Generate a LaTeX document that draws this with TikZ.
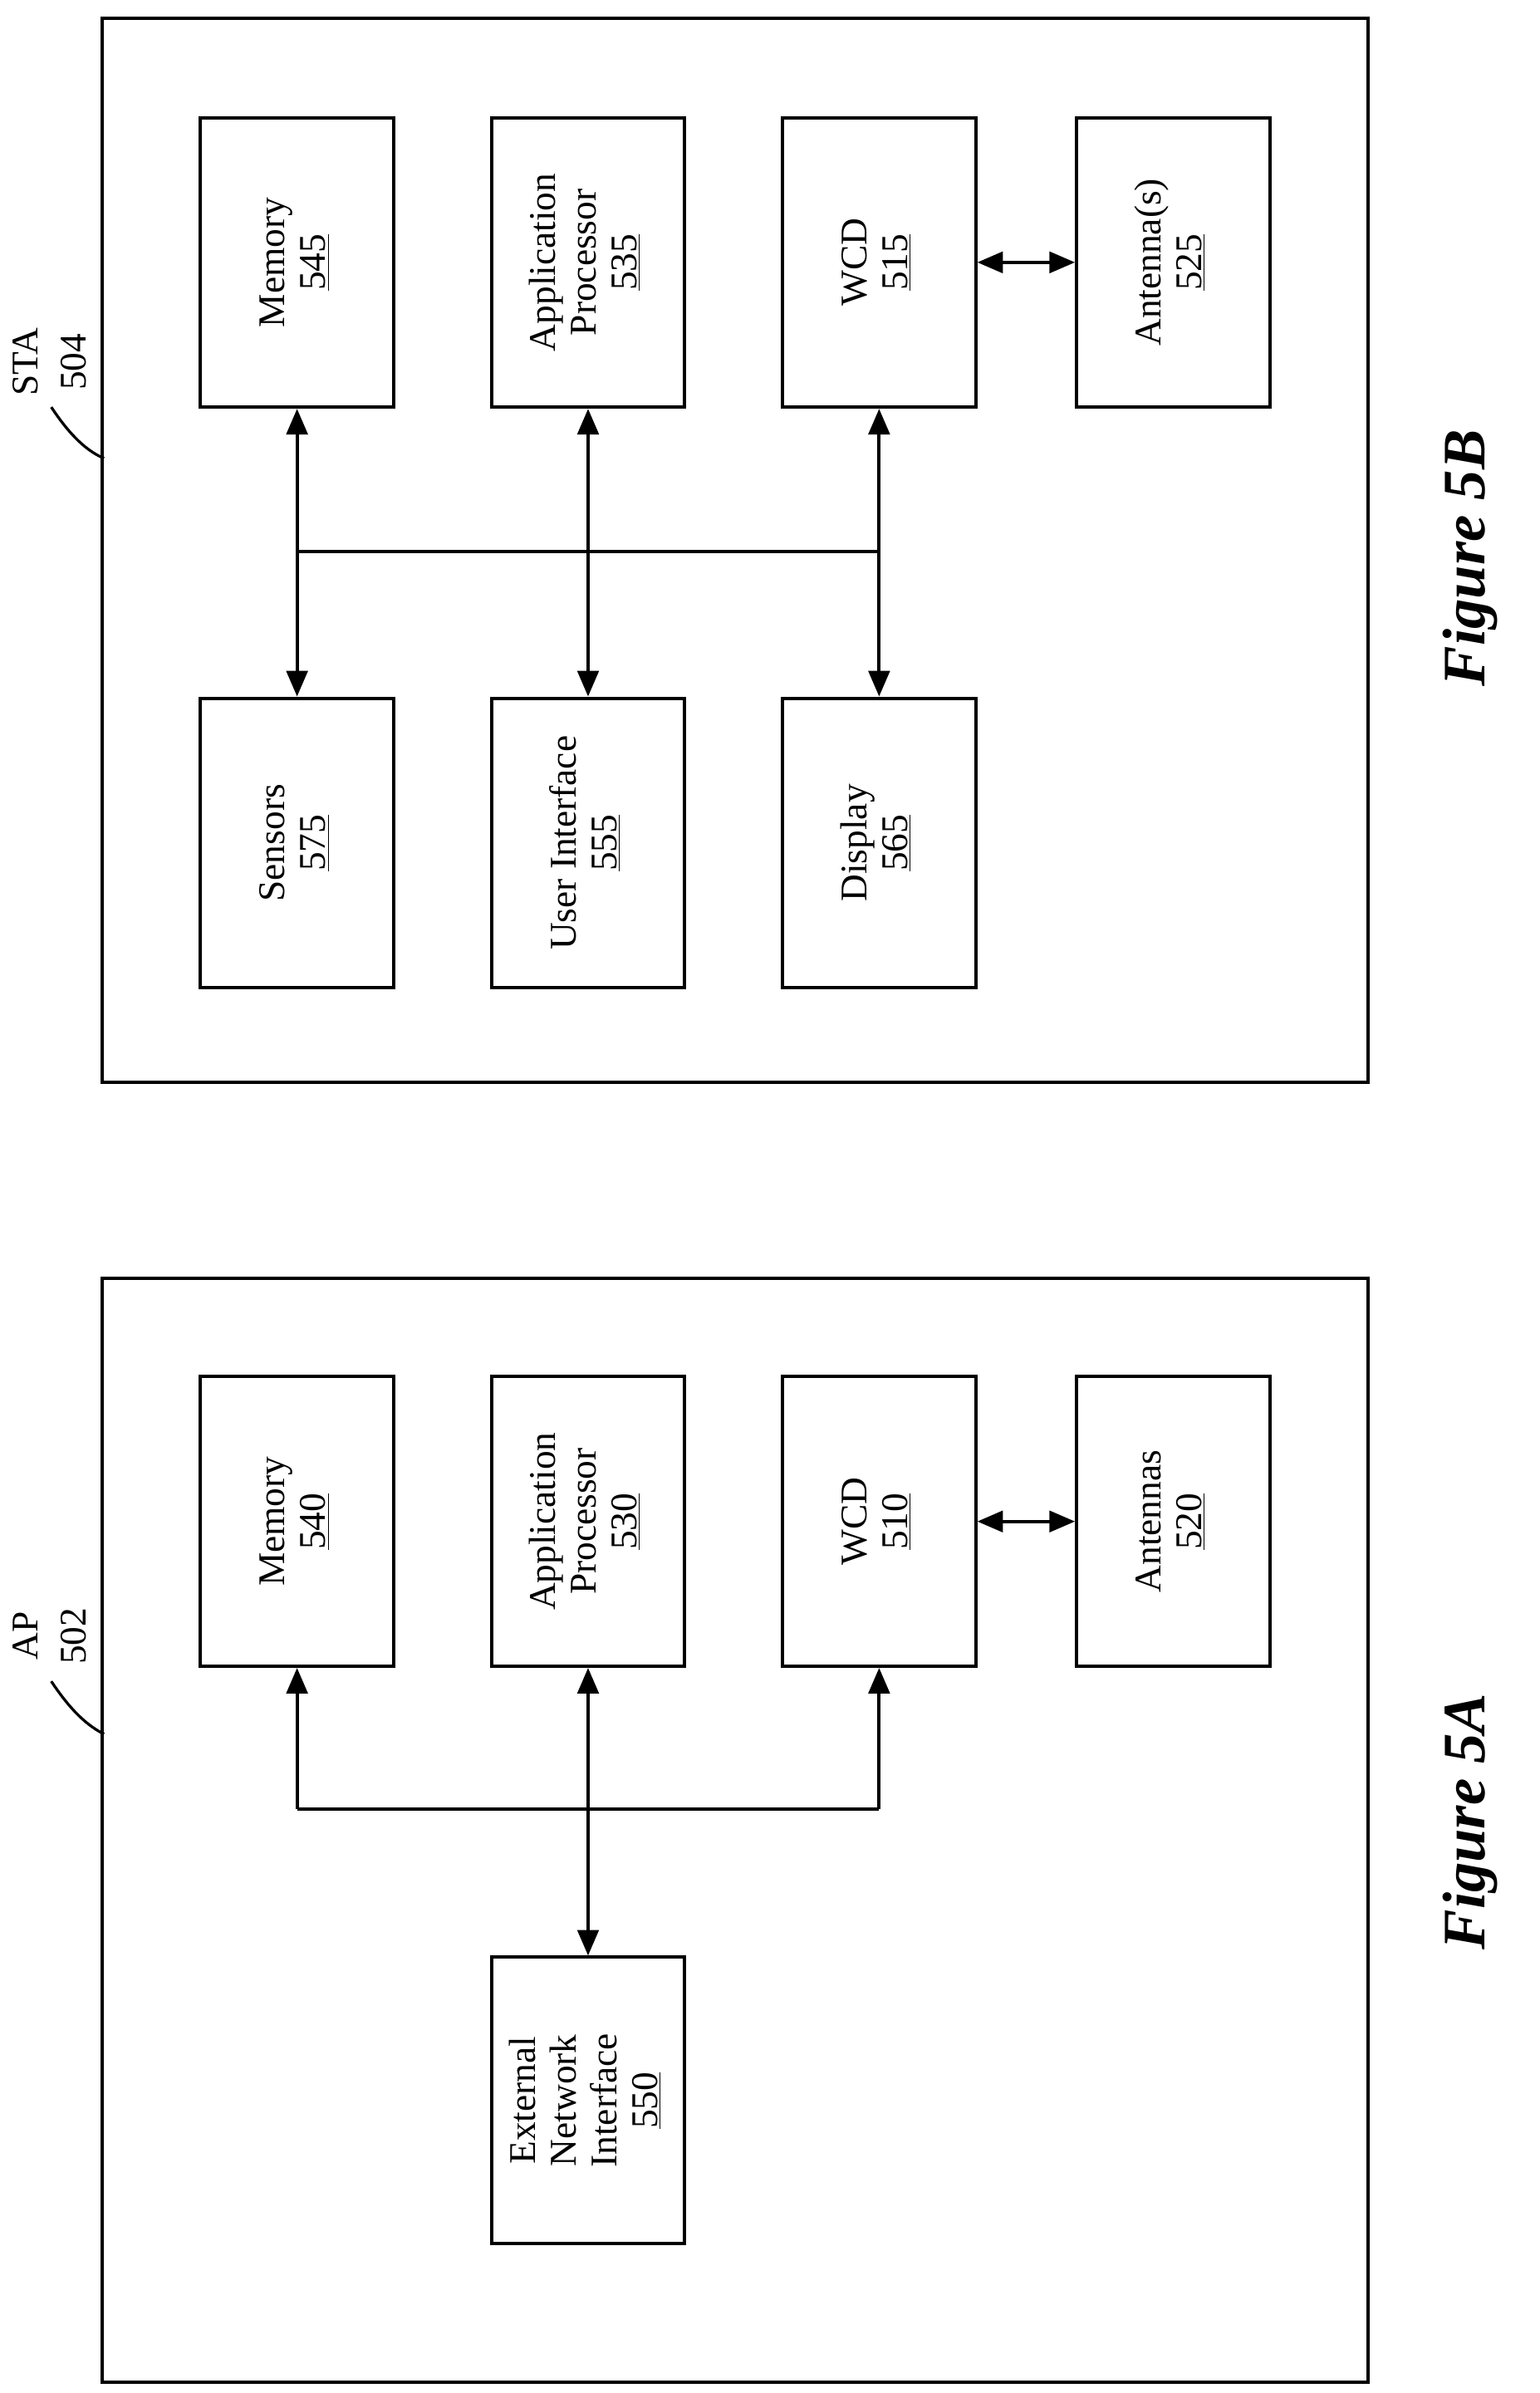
\documentclass[tikz,border=0pt]{standalone}
\usepackage{fontspec}
\setmainfont{Liberation Serif}
\usetikzlibrary{arrows.meta}
\begin{document}
\begin{tikzpicture}[x=1pt,y=-1pt,
  box/.style={draw,line width=2.2pt,minimum width=128pt,minimum height=192pt,inner sep=0pt,font=\fontsize{25}{27}\selectfont},
  arr/.style={line width=2.2pt,{Triangle[length=17pt,width=14pt]}-{Triangle[length=17pt,width=14pt]}},
  sarr/.style={line width=2.2pt,-{Triangle[length=17pt,width=14pt]}},
  ln/.style={line width=2.2pt},
  lbl/.style={font=\fontsize{25}{27}\selectfont,rotate=90,align=center,inner sep=0pt}]
\useasboundingbox (0,0) rectangle (1021,1587);
\newcommand{\rt}[1]{\rotatebox{90}{\begin{tabular}{@{}c@{}}#1\end{tabular}}}
% Figure 5B
\node[draw,line width=2.2pt,minimum width=839pt,minimum height=706pt,inner sep=0pt] (stab) at (487.5,365) {};
\node[box] (m545) at (197,174) {\rt{Memory\\\underline{545}}};
\node[box] (p535) at (390,174) {\rt{Application\\Processor\\\underline{535}}};
\node[box] (w515) at (583,174) {\rt{WCD\\\underline{515}}};
\node[box] (a525) at (778,174) {\rt{Antenna(s)\\\underline{525}}};
\node[box] (s575) at (197,559) {\rt{Sensors\\\underline{575}}};
\node[box] (u555) at (390,559) {\rt{User Interface\\\underline{555}}};
\node[box] (d565) at (583,559) {\rt{Display\\\underline{565}}};
\draw[arr] (m545.south) -- (s575.north);
\draw[arr] (p535.south) -- (u555.north);
\draw[arr] (w515.south) -- (d565.north);
\coordinate (bb1) at (197,366); \coordinate (bb2) at (583,366);
\draw[ln] (bb1) -- (bb2);
\draw[arr] (w515.east) -- (a525.west);
\node[lbl] (sta) at (17,240) {STA};
\node[lbl] (n504) at (49,240) {504};
\coordinate (c5b) at (69,304);
\draw[ln,line width=1.8pt] (34,270) .. controls (44,285) and (55,298) .. (c5b);
\node[font=\fontsize{40}{44}\selectfont\bfseries\itshape,rotate=90] (f5b) at (975,370) {Figure 5B};
% Figure 5A
\node[draw,line width=2.2pt,minimum width=839pt,minimum height=732pt,inner sep=0pt] (apb) at (487.5,1214) {};
\node[box] (m540) at (197,1009) {\rt{Memory\\\underline{540}}};
\node[box] (p530) at (390,1009) {\rt{Application\\Processor\\\underline{530}}};
\node[box] (w510) at (583,1009) {\rt{WCD\\\underline{510}}};
\node[box] (a520) at (778,1009) {\rt{Antennas\\\underline{520}}};
\node[box,minimum height=190pt] (e550) at (390,1393) {\rt{External\\Network\\Interface\\\underline{550}}};
\coordinate (ab1) at (197,1200); \coordinate (ab2) at (583,1200);
\draw[ln] (ab1) -- (ab2);
\draw[sarr] (ab1) -- (m540.south);
\draw[sarr] (ab2) -- (w510.south);
\draw[arr] (p530.south) -- (e550.north);
\draw[arr] (w510.east) -- (a520.west);
\node[lbl] (ap) at (17,1085) {AP};
\node[lbl] (n502) at (49,1085) {502};
\coordinate (c5a) at (69,1150);
\draw[ln,line width=1.8pt] (34,1115) .. controls (44,1130) and (55,1143) .. (c5a);
\node[font=\fontsize{40}{44}\selectfont\bfseries\itshape,rotate=90] (f5a) at (975,1208) {Figure 5A};
\end{tikzpicture}
\end{document}
